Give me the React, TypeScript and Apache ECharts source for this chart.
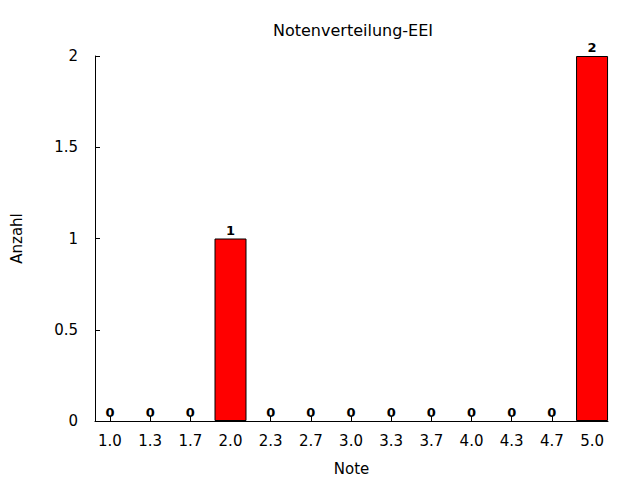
import React, { useEffect, useRef } from "react";
import * as echarts from "echarts";

const categories = ["1.0", "1.3", "1.7", "2.0", "2.3", "2.7", "3.0", "3.3", "3.7", "4.0", "4.3", "4.7", "5.0"];
const counts = [0, 0, 0, 1, 0, 0, 0, 0, 0, 0, 0, 0, 2];
const yTicks = [0, 0.5, 1, 1.5, 2];

export default function App() {
  const ref = useRef<HTMLDivElement>(null);
  useEffect(() => {
    if (!ref.current) return;
    const chart = echarts.init(ref.current, null, { renderer: "svg" });
    const idx = categories.map((_, i) => i);
    chart.setOption({
      animation: false,
      backgroundColor: "#fff",
      title: {
        text: "Notenverteilung-EEI",
        left: 348,
        top: 17,
        textAlign: "center",
        textStyle: { fontFamily: "DejaVu Sans", fontSize: 16, fontWeight: "normal", color: "#000" },
      },
      grid: { left: 95, right: 32, top: 56, bottom: 59, containLabel: false, outerBoundsMode: "none" },
      xAxis: {
        type: "value",
        min: -0.373,
        max: 12.397,
        name: "Note",
        nameLocation: "middle",
        nameGap: 40,
        nameTextStyle: { fontFamily: "DejaVu Sans", fontSize: 15, color: "#000" },
        axisLine: { show: true, onZero: false, lineStyle: { color: "#000", width: 1 } },
        axisTick: { show: true, inside: true, length: 5, customValues: idx, lineStyle: { color: "#000" } },
        axisLabel: {
          customValues: idx,
          formatter: (v: number) => categories[Math.round(v)] ?? "",
          fontFamily: "DejaVu Sans",
          fontSize: 15,
          color: "#000",
          margin: 12,
        },
        splitLine: { show: false },
      },
      yAxis: {
        type: "value",
        min: 0,
        max: 2,
        interval: 0.5,
        name: "Anzahl",
        nameLocation: "middle",
        nameGap: 71,
        nameRotate: 90,
        nameTextStyle: { fontFamily: "DejaVu Sans", fontSize: 15, color: "#000" },
        axisLine: { show: true, onZero: false, lineStyle: { color: "#000", width: 1 } },
        axisTick: { show: true, inside: true, length: 5, lineStyle: { color: "#000" } },
        axisLabel: {
          customValues: yTicks,
          fontFamily: "DejaVu Sans",
          fontSize: 15,
          color: "#000",
          margin: 17,
        },
        splitLine: { show: false },
      },
      series: [
        {
          type: "bar",
          data: counts.map((v, i) => ({
            value: [i, v],
            itemStyle: v === 0 ? { borderWidth: 0, color: "transparent" } : undefined,
          })),
          barWidth: 32,
          itemStyle: { color: "#ff0000", borderColor: "#000", borderWidth: 1 },
          label: {
            show: true,
            position: "top",
            distance: 2,
            formatter: (p: any) => String(p.value[1]),
            fontFamily: "DejaVu Sans",
            fontWeight: "bold",
            fontSize: 13,
            color: "#000",
          },
        },
      ],
    });
    return () => chart.dispose();
  }, []);
  return <div ref={ref} style={{ width: 640, height: 480, position: "absolute", left: 0, top: 0 }} />;
}
